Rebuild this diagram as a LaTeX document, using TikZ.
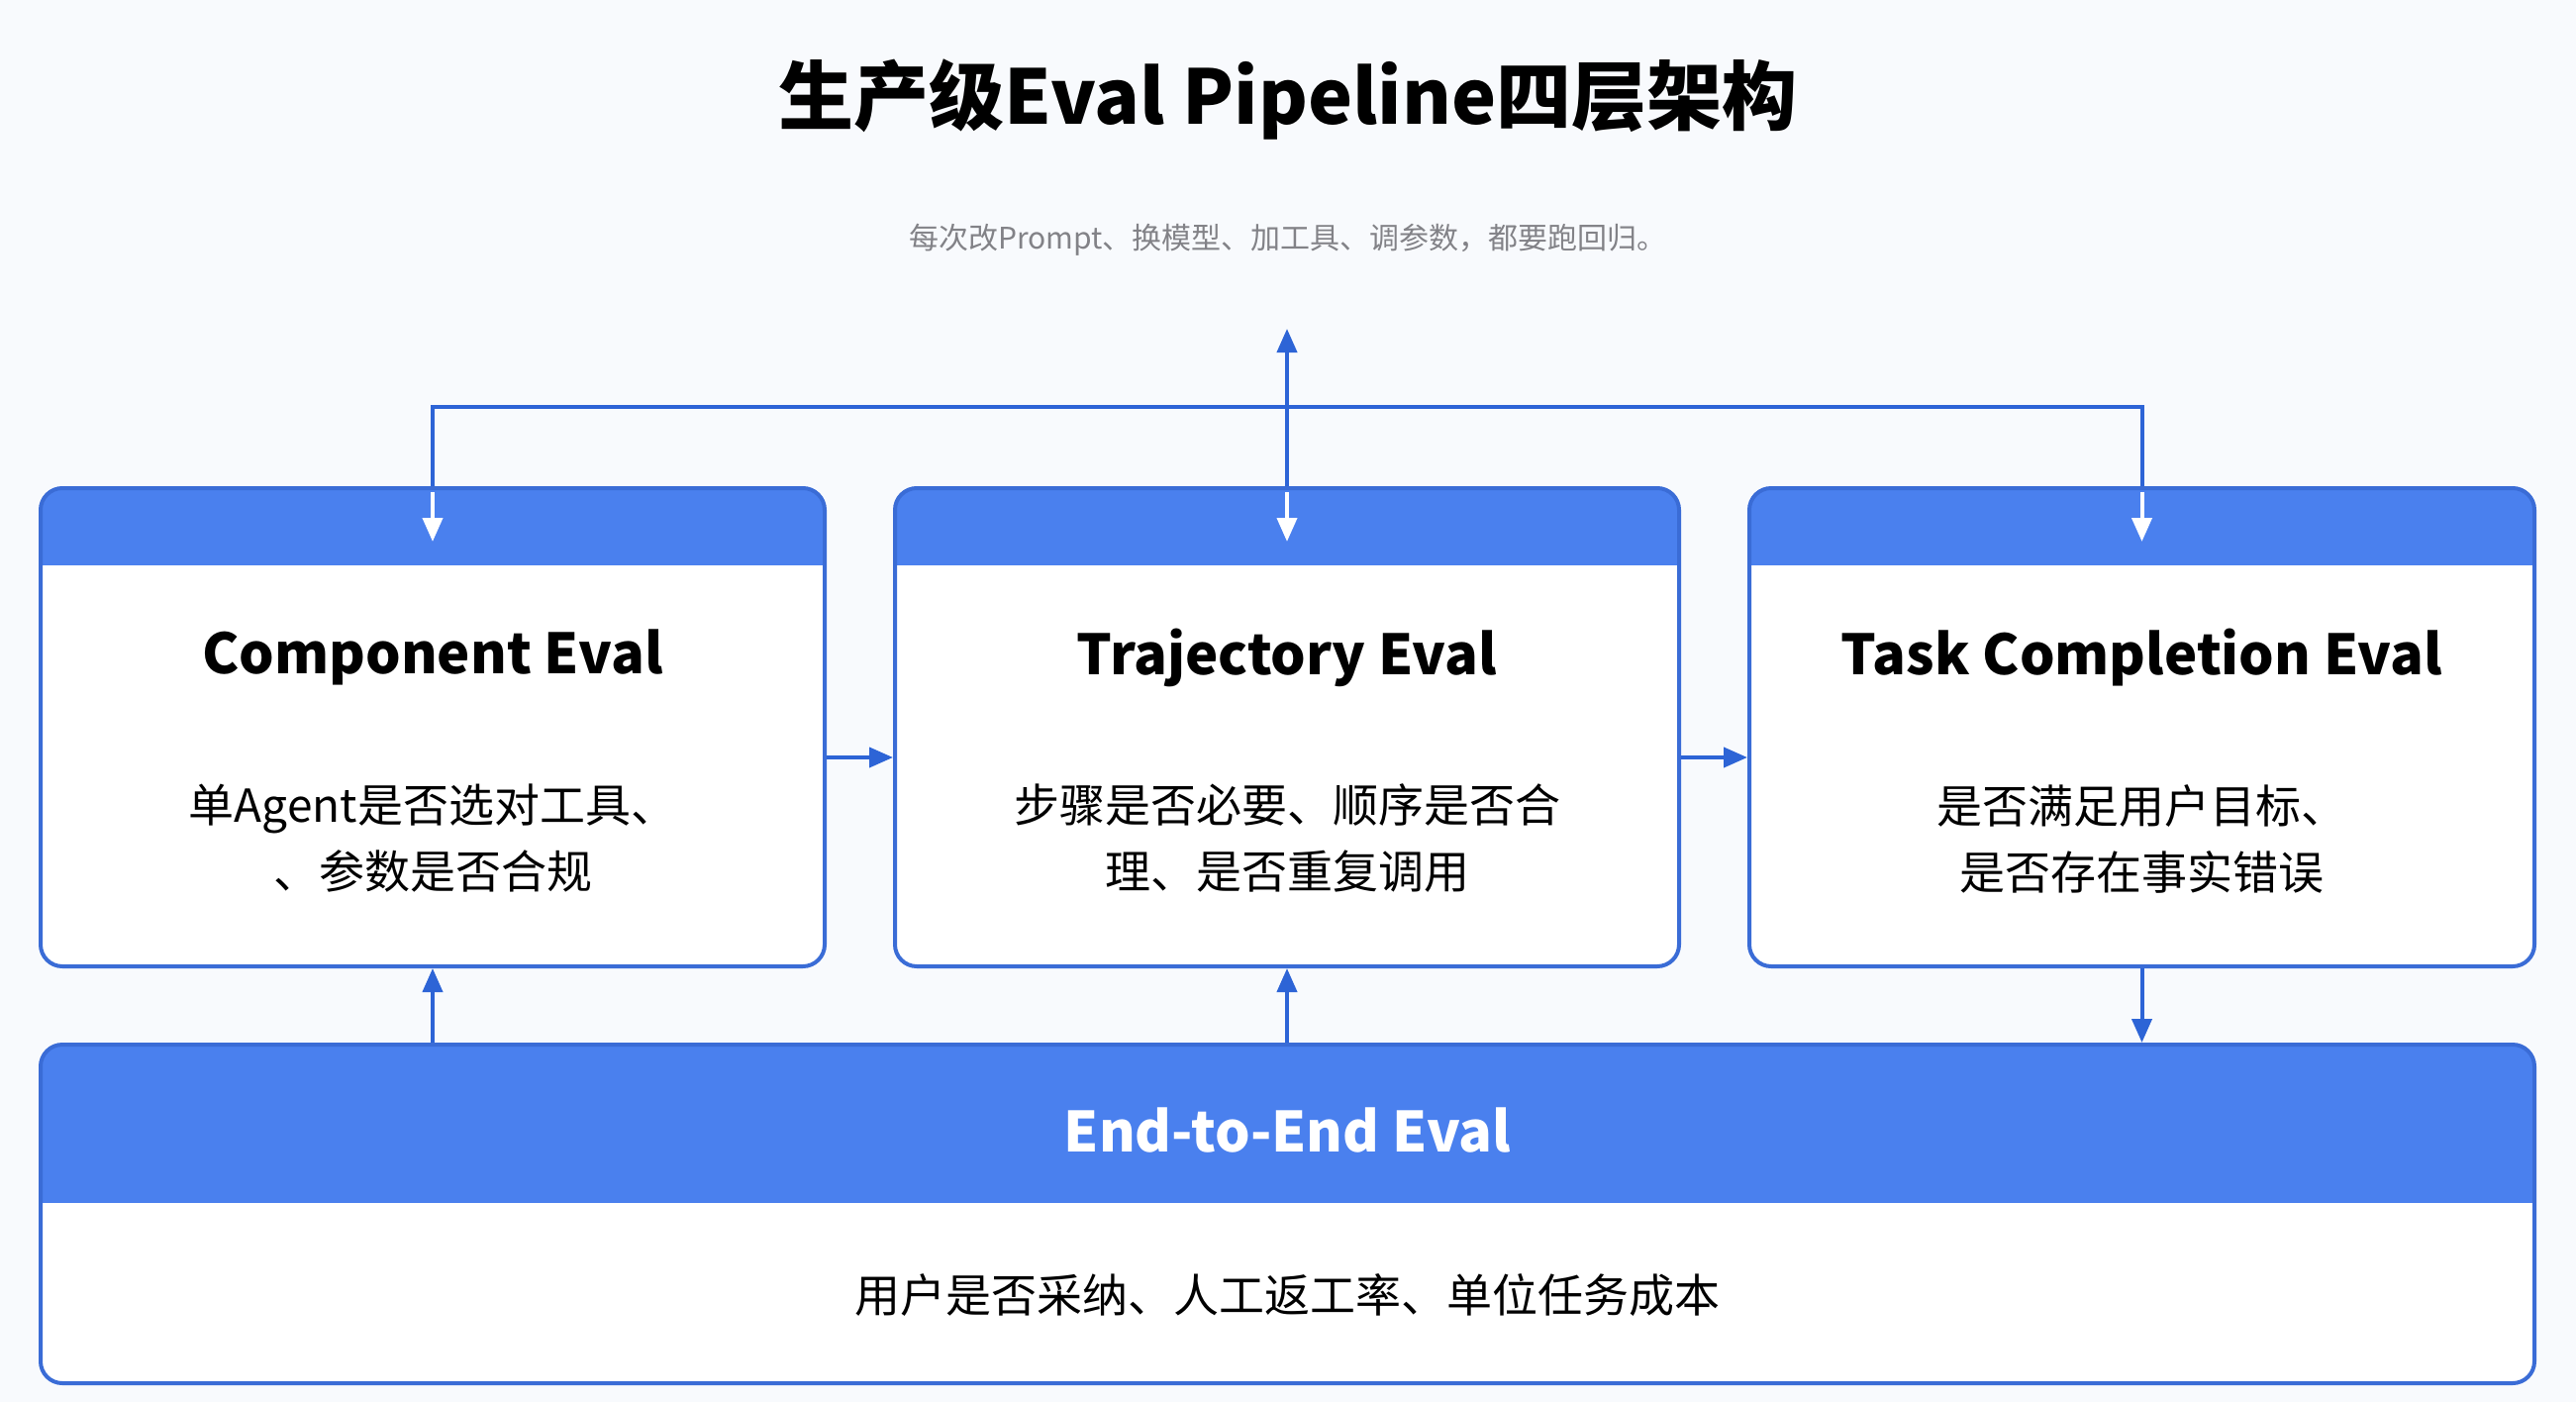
\documentclass[tikz,border=0pt]{standalone}
\usepackage{fontspec}
\setmainfont{Noto Sans CJK SC}
\usetikzlibrary{arrows.meta,calc}
\definecolor{bgc}{RGB}{248,250,253}
\definecolor{hdr}{RGB}{74,128,238}
\definecolor{bdr}{RGB}{58,108,214}
\definecolor{arc}{RGB}{45,100,214}
\definecolor{subc}{RGB}{130,130,135}
\tikzset{
  boxframe/.style={draw=bdr, line width=4pt, rounded corners=22pt, inner sep=0pt},
  arr/.style={draw=arc, line width=4pt, -{Triangle[length=24pt,width=20pt]}},
  warr/.style={draw=white, line width=4pt, -{Triangle[length=24pt,width=20pt]}},
  ln/.style={draw=arc, line width=4pt},
  ttl/.style={font=\bfseries\fontsize{56}{64}\selectfont, text=black},
  dsc/.style={font=\fontsize{46}{67}\selectfont, text=black, align=center},
}
\begin{document}
\begin{tikzpicture}[x=1pt,y=-1pt]
\fill[bgc] (0,0) rectangle (2602,1416);
\useasboundingbox (0,0) rectangle (2602,1416);
% title
\node[font=\bfseries\fontsize{76}{86}\selectfont] (title) at (1301,100) {生产级Eval Pipeline四层架构};
\node[font=\fontsize{30}{36}\selectfont, text=subc] (sub) at (1301,242) {每次改Prompt、换模型、加工具、调参数，都要跑回归。};
% box fills
\foreach \xa/\xb in {41/833, 904/1696, 1767/2560}{
  \begin{scope}
    \clip[rounded corners=22pt] (\xa,493) rectangle (\xb,976);
    \fill[white] (\xa,493) rectangle (\xb,976);
    \fill[hdr] (\xa,493) rectangle (\xb,571);
  \end{scope}
}
\begin{scope}
  \clip[rounded corners=22pt] (41,1055) rectangle (2560,1397);
  \fill[white] (41,1055) rectangle (2560,1397);
  \fill[hdr] (41,1055) rectangle (2560,1215);
\end{scope}
% box frames
\node[boxframe, minimum width=792pt, minimum height=483pt] (b1) at (437,734.5) {};
\node[boxframe, minimum width=792pt, minimum height=483pt] (b2) at (1300,734.5) {};
\node[boxframe, minimum width=793pt, minimum height=483pt] (b3) at (2163.5,734.5) {};
\node[boxframe, minimum width=2519pt, minimum height=342pt] (b4) at (1300.5,1226) {};
% texts
\node[ttl] (t1) at (437,664) {Component Eval};
\node[dsc] (d1) at (437,847) {单Agent是否选对工具、\\、参数是否合规};
\node[ttl] (t2) at (1300,664) {Trajectory Eval};
\node[dsc] (d2) at (1300,847) {步骤是否必要、顺序是否合\\理、是否重复调用};
\node[ttl] (t3) at (2163.5,664) {Task Completion Eval};
\node[dsc] (d3) at (2163.5,847) {是否满足用户目标、\\是否存在事实错误};
\node[ttl, text=white] (t4) at (1300.5,1142) {End-to-End Eval};
\node[dsc] (d4) at (1300.5,1308) {用户是否采纳、人工返工率、单位任务成本};
% top connectors
\coordinate (top) at (1300,332);
\coordinate (hl) at (437,411);
\coordinate (hr) at (2163.5,411);
\draw[ln] (b1.north) -- (hl) -- (hr) -- (b3.north);
\draw[arr] (b2.north) -- (top);
\draw[warr] ([yshift=-6pt]b1.north) -- ([yshift=-56pt]b1.north);
\draw[warr] ([yshift=-6pt]b2.north) -- ([yshift=-56pt]b2.north);
\draw[warr] ([yshift=-6pt]b3.north) -- ([yshift=-56pt]b3.north);
% horizontal connectors
\draw[arr] ([yshift=-30.5pt]b1.east) -- ([yshift=-30.5pt]b2.west);
\draw[arr] ([yshift=-30.5pt]b2.east) -- ([yshift=-30.5pt]b3.west);
% bottom connectors
\draw[arr] (b1.south |- b4.north) -- (b1.south);
\draw[arr] (b2.south |- b4.north) -- (b2.south);
\draw[arr] (b3.south) -- (b3.south |- b4.north);
\end{tikzpicture}
\end{document}
